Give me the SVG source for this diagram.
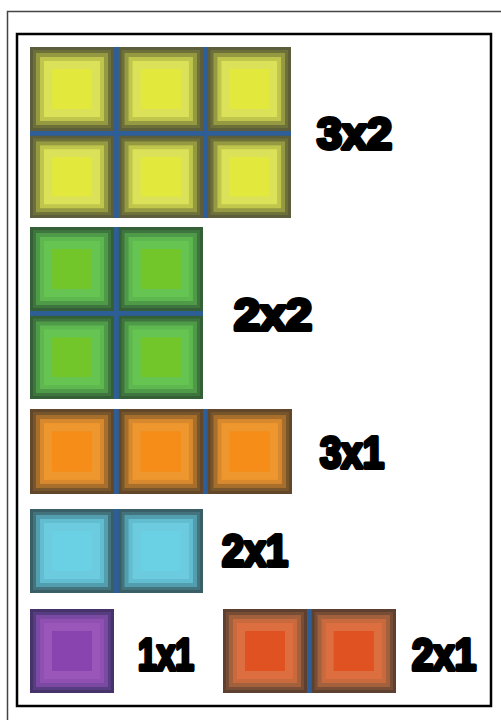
<svg xmlns="http://www.w3.org/2000/svg" xmlns:xlink="http://www.w3.org/1999/xlink" width="501" height="720" viewBox="0 0 501 720">
<style>
.lbl{font-family:"Liberation Sans","DejaVu Sans",sans-serif;font-weight:bold;font-size:44px;fill:#000;stroke:#000;stroke-width:4;stroke-linejoin:round}
.div{fill:#2d5e98}
</style>
<defs>
<symbol id="tY" viewBox="0 0 84 84" preserveAspectRatio="none">
<rect width="84" height="84" fill="#5c5d3a"/><rect x="3" y="3" width="78" height="78" fill="#6e7039"/><rect x="6" y="6" width="72" height="72" fill="#959a42"/><rect x="10" y="10" width="64" height="64" fill="#c0c64c"/><rect x="14" y="14" width="56" height="56" fill="#dbe259"/><rect x="22" y="22" width="40" height="40" fill="#e3e93c"/>
</symbol>
<symbol id="tG" viewBox="0 0 84 84" preserveAspectRatio="none">
<rect width="84" height="84" fill="#355f36"/><rect x="3" y="3" width="78" height="78" fill="#3e743d"/><rect x="6" y="6" width="72" height="72" fill="#4f9a48"/><rect x="10" y="10" width="64" height="64" fill="#5eb84f"/><rect x="14" y="14" width="56" height="56" fill="#66c452"/><rect x="22" y="22" width="40" height="40" fill="#72c62a"/>
</symbol>
<symbol id="tO" viewBox="0 0 84 84" preserveAspectRatio="none">
<rect width="84" height="84" fill="#62472a"/><rect x="3" y="3" width="78" height="78" fill="#78562b"/><rect x="6" y="6" width="72" height="72" fill="#a86f2c"/><rect x="10" y="10" width="64" height="64" fill="#d8892e"/><rect x="14" y="14" width="56" height="56" fill="#ee972e"/><rect x="22" y="22" width="40" height="40" fill="#f58d18"/>
</symbol>
<symbol id="tC" viewBox="0 0 84 84" preserveAspectRatio="none">
<rect width="84" height="84" fill="#3a5e66"/><rect x="3" y="3" width="78" height="78" fill="#43747e"/><rect x="6" y="6" width="72" height="72" fill="#529eae"/><rect x="10" y="10" width="64" height="64" fill="#62bdd0"/><rect x="14" y="14" width="56" height="56" fill="#6ccbde"/><rect x="22" y="22" width="40" height="40" fill="#6ad0e4"/>
</symbol>
<symbol id="tP" viewBox="0 0 84 84" preserveAspectRatio="none">
<rect width="84" height="84" fill="#45336a"/><rect x="3" y="3" width="78" height="78" fill="#583c82"/><rect x="6" y="6" width="72" height="72" fill="#7a4aa2"/><rect x="10" y="10" width="64" height="64" fill="#9050b2"/><rect x="14" y="14" width="56" height="56" fill="#9a56b8"/><rect x="22" y="22" width="40" height="40" fill="#8a44b0"/>
</symbol>
<symbol id="tR" viewBox="0 0 84 84" preserveAspectRatio="none">
<rect width="84" height="84" fill="#5e4030"/><rect x="3" y="3" width="78" height="78" fill="#774d36"/><rect x="6" y="6" width="72" height="72" fill="#a2603c"/><rect x="10" y="10" width="64" height="64" fill="#c86a3e"/><rect x="14" y="14" width="56" height="56" fill="#dc6e40"/><rect x="22" y="22" width="40" height="40" fill="#e05222"/>
</symbol>
</defs>
<rect width="501" height="720" fill="#fff"/>
<g id="frame">
<path d="M501,11.5 H7.5 V720" fill="none" stroke="#444" stroke-width="1.5"/>
<rect x="17" y="34" width="474" height="672" fill="none" stroke="#000" stroke-width="2.5"/>
</g>
<g id="block-3x2">
<rect class="div" x="30" y="47" width="261" height="171"/>
<use xlink:href="#tY" x="30" y="47" width="84" height="84"/>
<use xlink:href="#tY" x="118.5" y="47" width="84.5" height="84"/>
<use xlink:href="#tY" x="207.5" y="47" width="83.5" height="84"/>
<use xlink:href="#tY" x="30" y="135.5" width="84" height="82.5"/>
<use xlink:href="#tY" x="118.5" y="135.5" width="84.5" height="82.5"/>
<use xlink:href="#tY" x="207.5" y="135.5" width="83.5" height="82.5"/>
<text class="lbl" x="317" y="148.5" textLength="75" lengthAdjust="spacingAndGlyphs">3x2</text>
</g>
<g id="block-2x2">
<rect class="div" x="30" y="227" width="173" height="172"/>
<use xlink:href="#tG" x="30" y="227" width="84" height="84"/>
<use xlink:href="#tG" x="118.5" y="227" width="84.5" height="84"/>
<use xlink:href="#tG" x="30" y="315.5" width="84" height="83.5"/>
<use xlink:href="#tG" x="118.5" y="315.5" width="84.5" height="83.5"/>
<text class="lbl" x="234" y="330" textLength="78" lengthAdjust="spacingAndGlyphs">2x2</text>
</g>
<g id="block-3x1">
<rect class="div" x="30" y="409" width="262" height="85"/>
<use xlink:href="#tO" x="30" y="409" width="84" height="85"/>
<use xlink:href="#tO" x="118.5" y="409" width="84.5" height="85"/>
<use xlink:href="#tO" x="207.5" y="409" width="84.5" height="85"/>
<text class="lbl" x="320" y="468" textLength="64" lengthAdjust="spacingAndGlyphs">3x1</text>
</g>
<g id="block-2x1-cyan">
<rect class="div" x="30" y="509" width="173" height="84"/>
<use xlink:href="#tC" x="30" y="509" width="84" height="84"/>
<use xlink:href="#tC" x="118.5" y="509" width="84.5" height="84"/>
<text class="lbl" x="222" y="566" textLength="66" lengthAdjust="spacingAndGlyphs">2x1</text>
</g>
<g id="block-1x1">
<use xlink:href="#tP" x="30" y="609" width="84" height="84"/>
<text class="lbl" x="138" y="670" textLength="56" lengthAdjust="spacingAndGlyphs">1x1</text>
</g>
<g id="block-2x1-red">
<rect class="div" x="223" y="609" width="173" height="84"/>
<use xlink:href="#tR" x="223" y="609" width="84" height="84"/>
<use xlink:href="#tR" x="311.5" y="609" width="84.5" height="84"/>
<text class="lbl" x="412" y="670" textLength="64" lengthAdjust="spacingAndGlyphs">2x1</text>
</g>
</svg>
